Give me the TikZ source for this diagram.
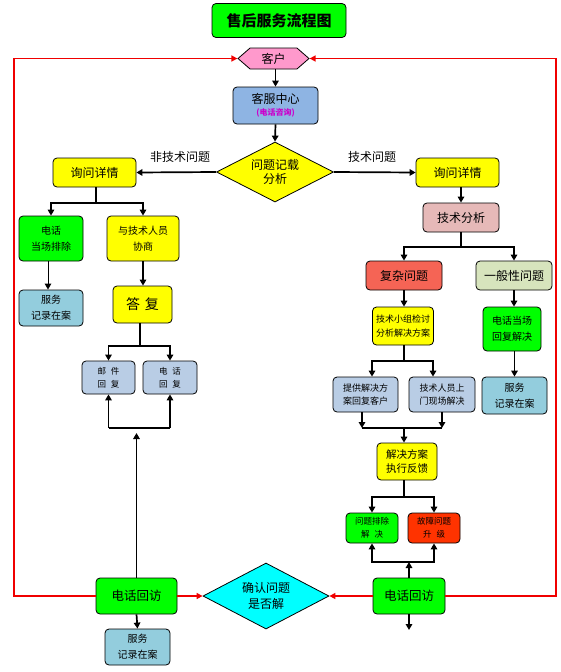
\documentclass[tikz,border=0pt]{standalone}
\usepackage{fontspec}
\setmainfont{Noto Sans CJK SC}
\usetikzlibrary{arrows.meta,shapes.geometric,shapes.symbols}
\definecolor{tgreen}{RGB}{0,255,0}
\definecolor{hexpink}{RGB}{255,153,204}
\definecolor{kfblue}{RGB}{142,180,227}
\definecolor{yel}{RGB}{255,255,0}
\definecolor{jsfxc}{RGB}{230,185,184}
\definecolor{fuzac}{RGB}{245,100,85}
\definecolor{yibanc}{RGB}{215,228,189}
\definecolor{fwc}{RGB}{147,205,221}
\definecolor{lblue}{RGB}{185,205,229}
\definecolor{gzc}{RGB}{255,51,0}
\definecolor{cyanc}{RGB}{0,255,255}
\definecolor{magc}{RGB}{204,0,204}
\definecolor{redl}{RGB}{240,0,0}
\newcommand{\gp}{\hspace{5pt}}
\tikzset{
  box/.style={draw=black, line width=0.8pt, rounded corners=4pt, align=center, inner sep=0pt},
  sz/.style 2 args={minimum width=#1pt, minimum height=#2pt},
  ln/.style={line width=1.7pt, line join=miter},
  arr/.style={line width=1.7pt, line join=miter, -{Triangle[length=6pt,width=6.5pt]}},
  tarr/.style={line width=0.9pt, -{Triangle[length=6pt,width=6.5pt]}},
  redarr/.style={draw=redl, line width=1.5pt, line join=miter, -{Triangle[length=6pt,width=6pt]}},
  fT/.style={font=\fontsize{15}{18}\selectfont\bfseries},
  fA/.style={font=\fontsize{12}{15}\selectfont},
  fB/.style={font=\fontsize{10}{16}\selectfont},
  fC/.style={font=\fontsize{9}{13.5}\selectfont},
  fD/.style={font=\fontsize{8.5}{13}\selectfont},
}
\begin{document}
\begin{tikzpicture}[x=1pt,y=-1pt]
\useasboundingbox (0,0) rectangle (560,672);
\fill[white] (0,0) rectangle (560,672);

% ---- nodes
\node[box, fill=tgreen, sz={134}{34}, fT] (title) at (279,20.5) {售后服务流程图};
\node[signal, signal to=east and west, signal pointer angle=82, draw, line width=0.8pt,
      fill=hexpink, minimum width=71pt, minimum height=21pt, inner sep=0pt, fA] (kehu) at (273.5,58.5) {客户};
\node[box, fill=kfblue, sz={85}{37}, fA] (kefu) at (275.5,105.5)
  {客服中心\\[-3pt]{\fontsize{8}{10}\selectfont\bfseries\color{magc}(电话咨询)}};
\node[diamond, draw, line width=0.8pt, fill=yel, minimum width=117pt, minimum height=60pt,
      inner sep=0pt, aspect=1.95, align=center, font=\fontsize{12}{14}\selectfont] (d1) at (275,172) {问题记载\\分析};

\node[fA] (lab1) at (180,157) {非技术问题};
\node[fA] (lab2) at (372,157) {技术问题};

% left column
\node[box, fill=yel, sz={83}{29}, fA] (xw1) at (94.5,172.5) {询问详情};
\node[box, fill=tgreen, sz={64}{45}, fB] (dhpc) at (51,238.5) {电话\\当场排除};
\node[box, fill=yel, sz={72}{45}, fB] (xs) at (143,238.5) {与技术人员\\协商};
\node[box, fill=fwc, sz={64}{36}, fB] (fw1) at (51,308) {服务\\记录在案};
\node[box, fill=yel, sz={59}{37}, font=\fontsize{14}{16}\selectfont] (dafu) at (142.5,304.5) {答\gp 复};
\node[box, fill=lblue, sz={53}{33}, fD] (yjhf) at (108.5,377.5) {邮\gp 件\\回\gp 复};
\node[box, fill=lblue, sz={54}{33}, fD] (dhhf) at (170,377.5) {电\gp 话\\回\gp 复};

% right column
\node[box, fill=yel, sz={83}{29}, fA] (xw2) at (457.5,172.5) {询问详情};
\node[box, fill=jsfxc, sz={76}{29}, fA] (jsfx) at (461,217.5) {技术分析};
\node[box, fill=fuzac, sz={76}{29}, fA] (fuza) at (404,275.5) {复杂问题};
\node[box, fill=yibanc, sz={76}{29}, fA] (yiban) at (514,275.5) {一般性问题};
\node[box, fill=yel, sz={61}{38}, fC] (jszu) at (403,326) {技术小组检讨\\分析解决方案};
\node[box, fill=tgreen, sz={58}{44}, fB] (dhdc) at (512,329) {电话当场\\回复解决};
\node[box, fill=lblue, sz={65}{35}, fC] (tigong) at (365.5,394.5) {提供解决方\\案回复客户};
\node[box, fill=lblue, sz={66}{35}, fC] (jsry) at (442,394.5) {技术人员上\\门现场解决};
\node[box, fill=fwc, sz={65}{37}, fB] (fw2) at (514.5,395.5) {服务\\记录在案};
\node[box, fill=yel, sz={60}{37}, font=\fontsize{10.5}{13.5}\selectfont] (jjfa) at (407,461.5) {解决方案\\执行反馈};
\node[box, fill=tgreen, sz={52}{30}, fD] (wtpc) at (372,528) {问题排除\\解\gp 决};
\node[box, fill=gzc, sz={52}{30}, fD] (gzsj) at (434,528) {故障问题\\升\gp 级};

% bottom row
\node[box, fill=tgreen, sz={81}{36}, font=\fontsize{12.5}{15}\selectfont] (hf1) at (136.5,596) {电话回访};
\node[diamond, draw, line width=0.8pt, fill=cyanc, minimum width=126pt, minimum height=66pt,
      inner sep=0pt, aspect=1.9, align=center, font=\fontsize{12}{16}\selectfont] (qr) at (266,596) {确认问题\\是否解};
\node[box, fill=tgreen, sz={72}{36}, font=\fontsize{12.5}{15}\selectfont] (hf2) at (409,596) {电话回访};
\node[box, fill=fwc, sz={65}{36}, fB] (fw3) at (137.5,647) {服务\\记录在案};

% ---- junction coordinates
\coordinate (j1) at (461,247);
\coordinate (j2) at (404,361);
\coordinate (j3) at (404,428);
\coordinate (j4) at (404,497);
\coordinate (j5) at (409,562);
\coordinate (e1) at (409,630);
\coordinate (k1) at (96,203);
\coordinate (k2) at (140,346);
\coordinate (k3) at (136.5,433);
\coordinate (k4) at (136,428);
\coordinate (rl1) at (14,596);
\coordinate (rl2) at (14,58.5);
\coordinate (rr1) at (556,596);
\coordinate (rr2) at (556,58.5);

% ---- connectors
\draw[arr] (kehu.south -| kefu.north) -- (kefu.north);
\draw[arr] (kefu.south) -- (d1.north);
\draw[arr] (d1.west) -- (xw1.east);
\draw[arr] (d1.east) -- (xw2.west);
\draw[arr] (xw2.south -| jsfx.north) -- (jsfx.north);
\draw[ln] (jsfx.south) -- (j1);
\draw[arr] (j1) -| (fuza.north);
\draw[arr] (j1) -| (yiban.north);
\draw[arr] (fuza.south) -- (fuza.south |- jszu.north);
\draw[arr] (yiban.south) -- (yiban.south |- dhdc.north);
\draw[ln] (jszu.south -| j2) -- (j2);
\draw[arr] (j2) -| ([xshift=6.5pt]tigong.north);
\draw[arr] (j2) -| ([xshift=-9pt]jsry.north);
\draw[arr] (dhdc.south -| fw2.north) -- (fw2.north);
\draw[arr] ([xshift=-3.5pt]tigong.south) -- ([xshift=-3.5pt]tigong.south |- j3);
\draw[arr] (jsry.south) -- (jsry.south |- j3);
\draw[ln] ([xshift=-3.5pt]tigong.south |- j3) -- (jsry.south |- j3);
\draw[arr] (j3) -- (j3 |- jjfa.north);
\draw[ln] (jjfa.south -| j4) -- (j4);
\draw[arr] (j4) -| (wtpc.north);
\draw[arr] (j4) -| (gzsj.north);
\draw[arr] (hf2.north) -- (j5);
\draw[arr] (j5) -| (wtpc.south);
\draw[arr] (j5) -| (gzsj.south);
\draw[arr] (hf2.south) -- (e1);

\draw[ln] (xw1.south -| k1) -- (k1);
\draw[arr] (k1) -| (dhpc.north);
\draw[arr] (k1) -| (xs.north);
\draw[tarr] ([xshift=-3pt]dhpc.south) -- ([xshift=-3pt]fw1.north);
\draw[arr] (xs.south) -- (xs.south |- dafu.north);
\draw[ln] (dafu.south -| k2) -- (k2);
\draw[arr] (k2) -| (yjhf.north);
\draw[arr] (k2) -| (dhhf.north);
\draw[arr] (hf1.north) -- (k3);
\draw[arr] (yjhf.south |- k4) -- (yjhf.south);
\draw[arr] (dhhf.south |- k4) -- (dhhf.south);
\draw[ln] (yjhf.south |- k4) -- (dhhf.south |- k4);
\draw[arr] (hf1.south) -- (fw3.north);

% red feedback lines
\draw[redarr] (hf1.east) -- (qr.west);
\draw[redarr] (hf2.west) -- (qr.east);
\draw[redarr] (hf1.west) -- (rl1) -- (rl2) -- (kehu.west);
\draw[redarr] (hf2.east) -- (rr1) -- (rr2) -- (kehu.east);
\end{tikzpicture}
\end{document}
